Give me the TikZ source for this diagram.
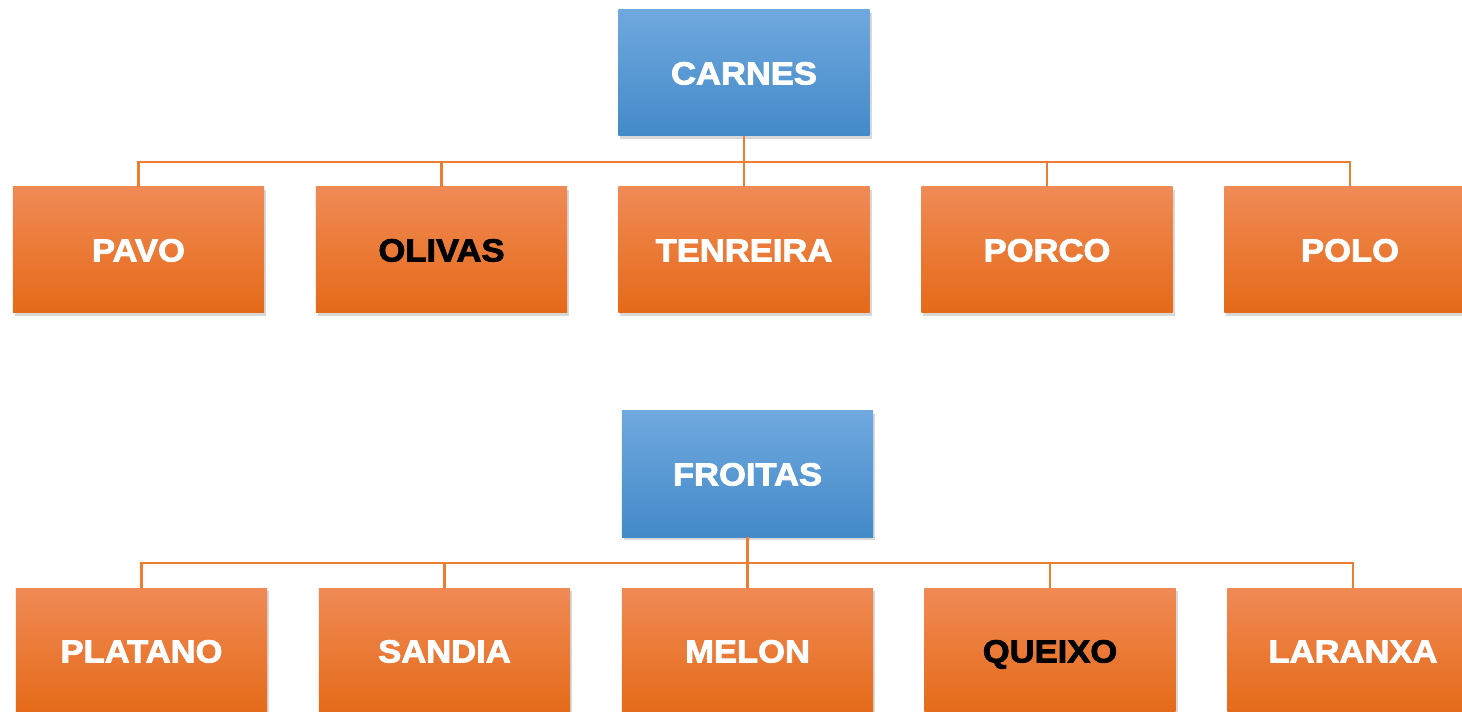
\documentclass[tikz,border=0pt]{standalone}
\usepackage{fontspec}
\newfontfamily\lbl{Liberation Sans}[UprightFont=* Bold, FakeStretch=1.08, FakeBold=2.6]
\usetikzlibrary{shadows}
\definecolor{bluetop}{HTML}{6FA8DE}
\definecolor{bluemid}{HTML}{5399D8}
\definecolor{bluebot}{HTML}{438AC9}
\definecolor{orgtop}{HTML}{F08A55}
\definecolor{orgmid}{HTML}{F47E2C}
\definecolor{orgbot}{HTML}{E56A18}
\definecolor{conn}{HTML}{ED7D31}
\tikzset{
  box/.style={rectangle, inner sep=0pt, minimum width=188.5pt, minimum height=94.5pt,
    text height=17.2pt, text depth=0pt,
    font=\lbl\fontsize{24}{28}\selectfont, text=white,
    drop shadow={opacity=0.3, shadow xshift=1.5pt, shadow yshift=-2.5pt}},
  headbox/.style={box, top color=bluetop, middle color=bluemid, bottom color=bluebot},
  leafbox/.style={box, top color=orgtop, middle color=orgmid, bottom color=orgbot},
  darktext/.style={text=black},
  link/.style={draw=conn, line width=1.8pt}
}
\begin{document}
\begin{tikzpicture}[x=0.75pt, y=-0.75pt]
\useasboundingbox (0,0) rectangle (1462,712);
\clip (0,0) rectangle (1462,712);
\fill[white] (0,0) rectangle (1462,712);
% group 1
\node[headbox] (carnes) at (744,73) {CARNES};
\node[leafbox] (pavo) at (138.5,250) {PAVO};
\node[leafbox, darktext] (olivas) at (441.5,250) {OLIVAS};
\node[leafbox] (tenreira) at (744,250) {TENREIRA};
\node[leafbox] (porco) at (1047,250) {PORCO};
\node[leafbox] (polo) at (1350,250) {POLO};
\coordinate (j1) at (744,162);
% group 2
\node[headbox] (froitas) at (747.5,474) {FROITAS};
\node[leafbox] (platano) at (141.5,651) {PLATANO};
\node[leafbox] (sandia) at (444.5,651) {SANDIA};
\node[leafbox] (melon) at (747.5,651) {MELON};
\node[leafbox, darktext] (queixo) at (1050,651) {QUEIXO};
\node[leafbox] (laranxa) at (1353,651) {LARANXA};
\coordinate (j2) at (747.5,563);
% connectors
\path[link] (carnes.south) -- (j1);
\foreach \n in {pavo,olivas,tenreira,porco,polo} \path[link] (j1) -| (\n.north);
\path[link] (froitas.south) -- (j2);
\foreach \n in {platano,sandia,melon,queixo,laranxa} \path[link] (j2) -| (\n.north);
\end{tikzpicture}
\end{document}
